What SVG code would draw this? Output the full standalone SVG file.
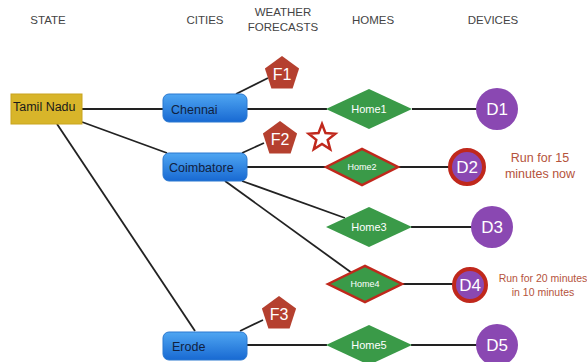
<svg xmlns="http://www.w3.org/2000/svg" width="587" height="362" viewBox="0 0 587 362">
<defs>
<linearGradient id="blueg" x1="0" y1="0" x2="0" y2="1">
<stop offset="0" stop-color="#4fa6f2"/>
<stop offset="1" stop-color="#1869d2"/>
</linearGradient>
<style>
.hdr{font-family:"Liberation Sans",Arial,sans-serif;font-size:11.5px;fill:#444;text-anchor:middle}
.city{fill:url(#blueg);stroke:#2a78d0;stroke-width:1}
.ctxt{font-family:"Liberation Sans",Arial,sans-serif;font-size:12.5px;fill:#10213f}
.pent{fill:#b5402f}
.ftxt{font-family:"Liberation Sans",Arial,sans-serif;font-size:16px;fill:#fff;text-anchor:middle}
.dia{fill:#3a9a48}
.dia.alert{stroke:#c0281c;stroke-width:2.5}
.htxt{font-family:"Liberation Sans",Arial,sans-serif;font-size:11px;fill:#fff;text-anchor:middle}
.htxt.sm{font-size:9px}
.dev{fill:#8a48b2}
.dev.alert{stroke:#c0281c;stroke-width:4}
.dtxt{font-family:"Liberation Sans",Arial,sans-serif;font-size:17px;fill:#fff;text-anchor:middle}
.note{font-family:"Liberation Sans",Arial,sans-serif;fill:#b5533c;text-anchor:middle}
#connectors line{stroke:#222;stroke-width:1.8}
</style>
</defs>
<rect width="587" height="362" fill="#fff"/>

<g id="headers">
<text class="hdr" x="48" y="24">STATE</text>
<text class="hdr" x="205" y="24">CITIES</text>
<text class="hdr" x="283" y="16">WEATHER</text>
<text class="hdr" x="283" y="31">FORECASTS</text>
<text class="hdr" x="373" y="24">HOMES</text>
<text class="hdr" x="493" y="24">DEVICES</text>
</g>

<g id="connectors">
<line x1="82" y1="109" x2="163" y2="109"/>
<line x1="82" y1="122" x2="167" y2="153"/>
<line x1="57" y1="124" x2="195" y2="331"/>
<line x1="236" y1="94" x2="268" y2="78"/>
<line x1="247" y1="109" x2="327" y2="109"/>
<line x1="412" y1="109" x2="477" y2="109"/>
<line x1="242" y1="153" x2="264" y2="143"/>
<line x1="247" y1="167" x2="326" y2="167"/>
<line x1="398" y1="167" x2="450" y2="167"/>
<line x1="242" y1="181" x2="345" y2="218"/>
<line x1="225" y1="181" x2="352" y2="273"/>
<line x1="411" y1="227" x2="472" y2="227"/>
<line x1="402" y1="284" x2="454" y2="284"/>
<line x1="240" y1="331" x2="263" y2="320"/>
<line x1="247" y1="345" x2="327" y2="345"/>
<line x1="411" y1="345" x2="477" y2="345"/>
</g>

<g id="tamilnadu">
<rect x="11" y="94" width="71" height="30" fill="#d8b52a" stroke="#c9a41e" stroke-width="1"/>
<text class="ctxt" x="13" y="111" style="fill:#1a1a1a">Tamil Nadu</text>
</g>

<g id="chennai">
<rect class="city" x="163" y="94" width="84" height="28" rx="6"/>
<text class="ctxt" x="171" y="114">Chennai</text>
</g>
<g id="coimbatore">
<rect class="city" x="163" y="153" width="84" height="28" rx="6"/>
<text class="ctxt" x="169" y="172">Coimbatore</text>
</g>
<g id="erode">
<rect class="city" x="163" y="332" width="84" height="28" rx="6"/>
<text class="ctxt" x="172" y="351">Erode</text>
</g>

<g id="f1">
<polygon class="pent" points="282,56 299.1,68.4 292.6,88.6 271.4,88.6 264.9,68.4"/>
<text class="ftxt" x="282" y="80">F1</text>
</g>
<g id="f2">
<polygon class="pent" points="280,121 297.1,133.4 290.6,153.6 269.4,153.6 262.9,133.4"/>
<text class="ftxt" x="280" y="145">F2</text>
</g>
<g id="f3">
<polygon class="pent" points="279,296 296.1,308.4 289.6,328.6 268.4,328.6 261.9,308.4"/>
<text class="ftxt" x="279" y="320">F3</text>
</g>

<g id="star">
<polygon points="322,124 325.5,133.1 335.3,133.7 327.7,139.9 330.2,149.3 322,144 313.8,149.3 316.3,139.9 308.7,133.7 318.5,133.1" fill="#fff" stroke="#c0281c" stroke-width="2.5" stroke-linejoin="miter"/>
</g>

<g id="home1">
<polygon class="dia" points="326,109 369,89 412,109 369,129"/>
<text class="htxt" x="369" y="113">Home1</text>
</g>
<g id="home2">
<polygon class="dia alert" points="326,167 362,149 398,167 362,185"/>
<text class="htxt sm" x="362" y="170">Home2</text>
</g>
<g id="home3">
<polygon class="dia" points="326,227 369,207 412,227 369,247"/>
<text class="htxt" x="369" y="231">Home3</text>
</g>
<g id="home4">
<polygon class="dia alert" points="328,284 365,266 402,284 365,302"/>
<text class="htxt sm" x="365" y="287">Home4</text>
</g>
<g id="home5">
<polygon class="dia" points="326,345 369,325 412,345 369,365"/>
<text class="htxt" x="369" y="349">Home5</text>
</g>

<g id="d1">
<circle class="dev" cx="497" cy="109" r="21"/>
<text class="dtxt" x="497" y="115">D1</text>
</g>
<g id="d2">
<circle class="dev alert" cx="467" cy="167" r="17"/>
<text class="dtxt" x="467" y="173">D2</text>
</g>
<g id="d3">
<circle class="dev" cx="492" cy="227" r="21"/>
<text class="dtxt" x="492" y="233">D3</text>
</g>
<g id="d4">
<circle class="dev alert" cx="470" cy="285" r="16"/>
<text class="dtxt" x="470" y="291">D4</text>
</g>
<g id="d5">
<circle class="dev" cx="497" cy="345" r="21"/>
<text class="dtxt" x="497" y="351">D5</text>
</g>

<g id="notes">
<text class="note" x="540" y="162" font-size="12.5">Run for 15</text>
<text class="note" x="540" y="178" font-size="12.5">minutes now</text>
<text class="note" x="543" y="282" font-size="10.5">Run for 20 minutes</text>
<text class="note" x="543" y="296" font-size="10.5">in 10 minutes</text>
</g>
</svg>
